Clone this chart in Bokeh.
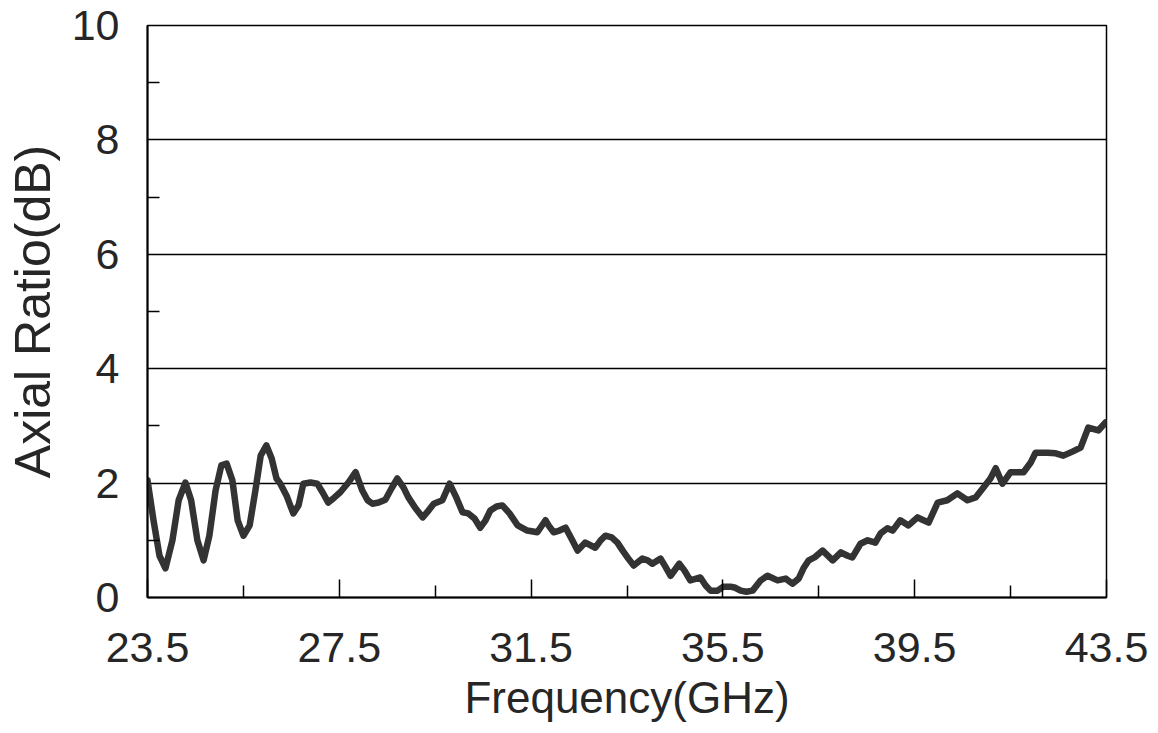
from bokeh.plotting import figure
from bokeh.models import FixedTicker, Range1d
from bokeh.embed import file_html
from bokeh.resources import INLINE

# Data
freq_ghz = [23.50, 23.625, 23.75, 23.875, 24.02, 24.15, 24.29, 24.41, 24.54, 24.67,
            24.79, 24.92, 25.04, 25.15, 25.27, 25.38, 25.50, 25.63, 25.75, 25.86,
            25.98, 26.09, 26.19, 26.27, 26.40, 26.54, 26.65, 26.75, 26.90, 27.04,
            27.15, 27.27, 27.40, 27.52, 27.69, 27.84, 27.98, 28.09, 28.19, 28.32,
            28.46, 28.59, 28.71, 28.84, 28.94, 29.09, 29.24, 29.36, 29.47, 29.65,
            29.80, 29.94, 30.07, 30.19, 30.32, 30.44, 30.55, 30.65, 30.78, 30.90,
            31.05, 31.22, 31.42, 31.63, 31.80, 31.88, 31.97, 32.09, 32.22, 32.34,
            32.47, 32.63, 32.84, 32.95, 33.05, 33.18, 33.30, 33.41, 33.51, 33.64,
            33.82, 33.93, 34.03, 34.20, 34.30, 34.41, 34.59, 34.70, 34.82, 35.03,
            35.14, 35.24, 35.39, 35.51, 35.66, 35.76, 35.87, 35.99, 36.12, 36.29,
            36.43, 36.64, 36.81, 36.95, 37.08, 37.18, 37.29, 37.41, 37.58, 37.79,
            37.96, 38.10, 38.20, 38.37, 38.52, 38.68, 38.79, 38.93, 39.04, 39.20,
            39.37, 39.56, 39.66, 39.79, 39.98, 40.18, 40.39, 40.60, 40.77, 40.93,
            41.08, 41.19, 41.33, 41.50, 41.77, 41.92, 42.02, 42.27, 42.44, 42.60,
            42.79, 42.96, 43.12, 43.33, 43.48]
axial_ratio_db = [2.05, 1.35, 0.73, 0.51, 1.00, 1.70, 2.01, 1.70, 1.00, 0.65,
                  1.08, 1.87, 2.31, 2.34, 2.05, 1.35, 1.08, 1.26, 1.87, 2.48,
                  2.66, 2.43, 2.08, 1.99, 1.78, 1.47, 1.61, 1.99, 2.01, 1.99,
                  1.84, 1.66, 1.75, 1.84, 2.01, 2.19, 1.87, 1.70, 1.64, 1.66,
                  1.71, 1.91, 2.08, 1.92, 1.75, 1.56, 1.40, 1.52, 1.64, 1.70,
                  1.99, 1.75, 1.49, 1.47, 1.38, 1.22, 1.35, 1.52, 1.59, 1.61,
                  1.47, 1.26, 1.17, 1.14, 1.35, 1.24, 1.14, 1.17, 1.22, 1.03,
                  0.82, 0.96, 0.87, 1.00, 1.08, 1.05, 0.96, 0.82, 0.70, 0.56,
                  0.68, 0.65, 0.59, 0.68, 0.54, 0.38, 0.59, 0.47, 0.30, 0.35,
                  0.21, 0.12, 0.12, 0.19, 0.19, 0.17, 0.12, 0.10, 0.12, 0.30,
                  0.38, 0.30, 0.33, 0.24, 0.33, 0.51, 0.65, 0.70, 0.82, 0.65,
                  0.79, 0.73, 0.70, 0.94, 1.00, 0.96, 1.12, 1.21, 1.17, 1.35,
                  1.26, 1.40, 1.36, 1.31, 1.66, 1.70, 1.82, 1.70, 1.75, 1.92,
                  2.08, 2.26, 1.99, 2.19, 2.19, 2.36, 2.53, 2.53, 2.52, 2.48,
                  2.55, 2.62, 2.97, 2.92, 3.06]

x_ticks = [23.5, 27.5, 31.5, 35.5, 39.5, 43.5]
x_tick_labels = ["23.5", "27.5", "31.5", "35.5", "39.5", "43.5"]
x_minor_ticks = [25.5, 29.5, 33.5, 37.5, 41.5]
y_ticks = [0, 2, 4, 6, 8, 10]
y_tick_labels = ["0", "2", "4", "6", "8", "10"]
y_minor_ticks = [1, 3, 5, 7, 9]
y_grid_values = [2, 4, 6, 8]

FONT = "Liberation Sans"
TXT = "#262626"

p = figure(frame_width=959, frame_height=572,
           min_border_left=147, min_border_right=50,
           min_border_top=25, min_border_bottom=134,
           x_range=Range1d(23.5, 43.5), y_range=Range1d(0, 10),
           output_backend="svg", toolbar_location=None,
           background_fill_color="white", border_fill_color="white")

p.line(freq_ghz, axial_ratio_db, line_color="#333333", line_width=6.5,
       line_join="round", line_cap="round")

p.outline_line_color = "black"
p.outline_line_width = 1.5

p.xgrid.visible = False
p.ygrid.ticker = FixedTicker(ticks=y_grid_values)
p.ygrid.grid_line_color = "black"
p.ygrid.grid_line_width = 1.3

xa = p.xaxis[0]
xa.ticker = FixedTicker(ticks=x_ticks, minor_ticks=x_minor_ticks)
xa.major_label_overrides = {t: l for t, l in zip(x_ticks, x_tick_labels)}
ya = p.yaxis[0]
ya.ticker = FixedTicker(ticks=y_ticks, minor_ticks=y_minor_ticks)
ya.major_label_overrides = {t: l for t, l in zip(y_ticks, y_tick_labels)}

for ax in (xa, ya):
    ax.axis_line_color = "black"
    ax.axis_line_width = 2
    ax.major_tick_in = 18
    ax.major_tick_out = 0
    ax.minor_tick_in = 12
    ax.minor_tick_out = 0
    ax.major_tick_line_color = "black"
    ax.minor_tick_line_color = "black"
    ax.major_tick_line_width = 1.5
    ax.minor_tick_line_width = 1.5
    ax.major_label_text_font = FONT
    ax.major_label_text_font_size = "43px"
    ax.major_label_text_color = TXT
    ax.axis_label_text_font = FONT
    ax.axis_label_text_font_style = "normal"
    ax.axis_label_text_color = TXT

ya.major_tick_in = 0
xa.axis_label = "Frequency(GHz)"
xa.axis_label_text_font_size = "44px"
xa.major_label_standoff = 35
xa.axis_label_standoff = 8
ya.axis_label = "Axial Ratio(dB)"
ya.axis_label_text_font_size = "50px"
ya.major_label_standoff = 28
ya.axis_label_standoff = 8

open("out.html", "w").write(file_html(p, INLINE))
